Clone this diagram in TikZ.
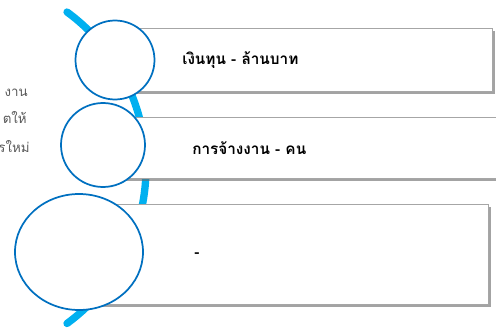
\documentclass[tikz,border=0pt]{standalone}
\usepackage{fontspec}
\newfontfamily\thaifont[Script=Thai]{Loma}
\usetikzlibrary{shadows,shapes.geometric}
\definecolor{arcblue}{HTML}{00B0F0}
\definecolor{ringblue}{HTML}{0070C0}
\definecolor{boxgray}{HTML}{A6A6A6}
\definecolor{sidegray}{HTML}{595959}
\tikzset{
  infobox/.style={draw=boxgray, line width=1pt, fill=white,
    drop shadow={shadow xshift=1.5pt, shadow yshift=-2pt, opacity=0.6, fill=black!60}},
  ring/.style={draw=ringblue, line width=1.3pt, fill=white},
  boxtext/.style={font=\thaifont\bfseries\fontsize{11.5pt}{13pt}\selectfont, anchor=west, inner sep=0pt},
  sidetext/.style={font=\thaifont\fontsize{10pt}{12pt}\selectfont, text=sidegray, anchor=east, inner sep=0pt}
}
\begin{document}
\begin{tikzpicture}[x=0.75pt,y=-0.75pt]
\useasboundingbox (0,0) rectangle (496,329);
% arc
\coordinate (arcS) at (67,12);
\draw[arcblue, line width=5.5pt, line cap=round]
  (arcS) arc[start angle=-53.8, end angle=53.8, radius=193];
% boxes
\node[infobox, minimum width=377pt*0.75, minimum height=63pt*0.75, anchor=north west] (b1) at (115,28) {};
\node[infobox, minimum width=393pt*0.75, minimum height=61pt*0.75, anchor=north west] (b2) at (103,117) {};
\node[infobox, minimum width=388pt*0.75, minimum height=100pt*0.75, anchor=north west] (b3) at (100,204) {};
% circles
\node[ring, circle, minimum size=79pt*0.75, inner sep=0pt] (c1) at (115,60) {};
\node[ring, circle, minimum size=84pt*0.75, inner sep=0pt] (c2) at (103,145) {};
\node[ring, ellipse, minimum width=128pt*0.75, minimum height=116pt*0.75, inner sep=0pt] (c3) at (79,252) {};
% texts
\node[boxtext] (t1) at (182,60) {เงินทุน - ล้านบาท};
\node[boxtext] (t2) at (192,148) {การจ้างงาน - คน};
\node[boxtext] (t3) at (194,255) {-};
\node[sidetext] (s1) at (28,93) {งาน};
\node[sidetext] (s2) at (27,118) {ตให้};
\node[sidetext] (s3) at (30,147) {รใหม่};
\end{tikzpicture}
\end{document}
